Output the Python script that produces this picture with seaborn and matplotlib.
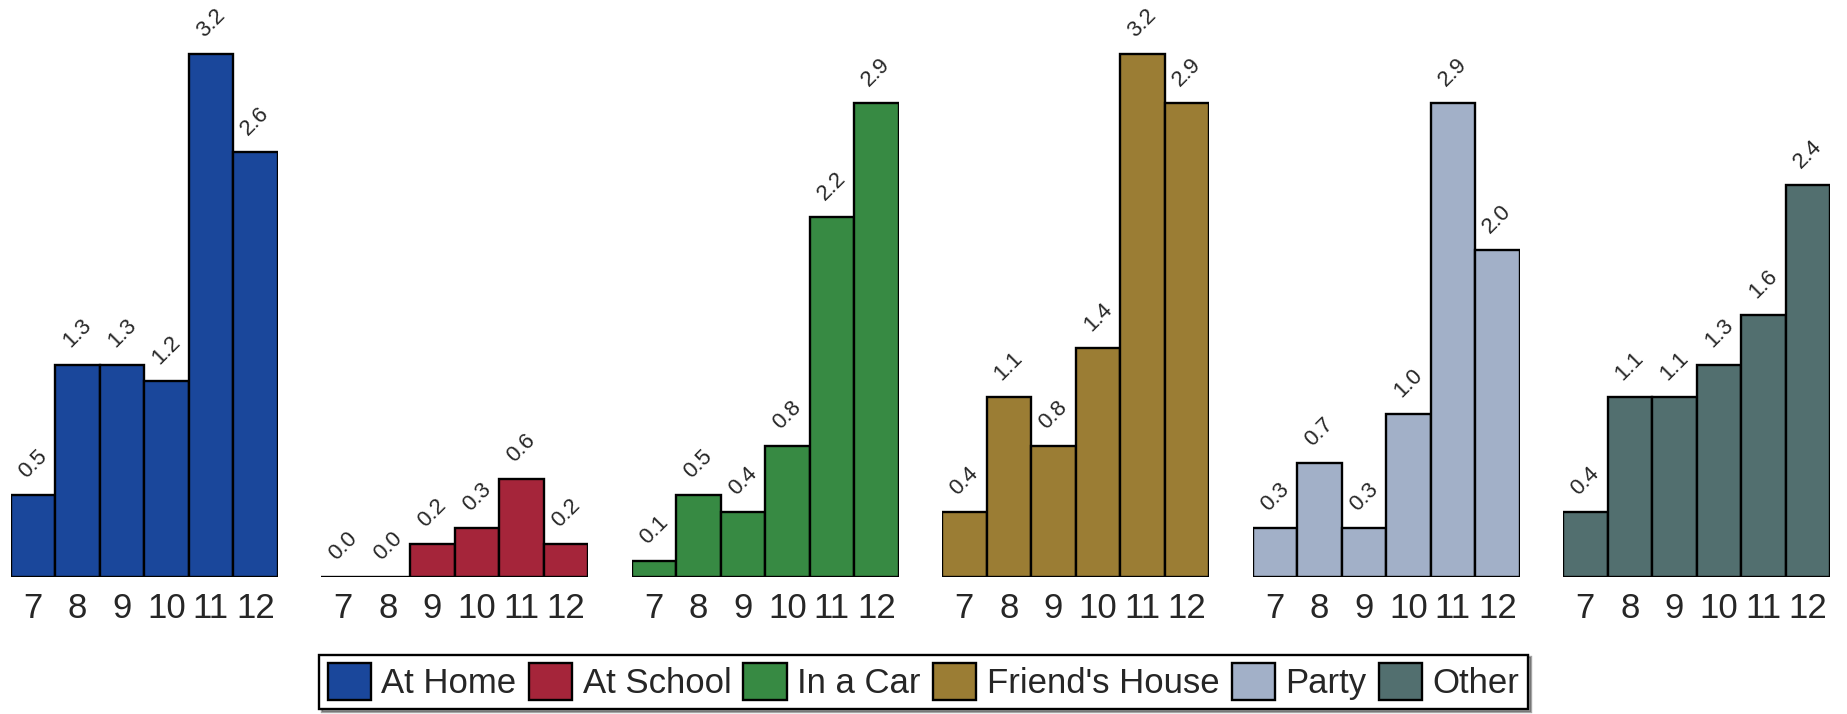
import numpy as np
import pandas as pd
import matplotlib
matplotlib.use('Agg')
import matplotlib.pyplot as plt
import seaborn as sns
from matplotlib.patches import Patch

grades = ['7', '8', '9', '10', '11', '12']
locations = ['At Home', 'At School', 'In a Car', "Friend's House", 'Party', 'Other']

at_home = [0.5, 1.3, 1.3, 1.2, 3.2, 2.6]
at_school = [0.0, 0.0, 0.2, 0.3, 0.6, 0.2]
in_a_car = [0.1, 0.5, 0.4, 0.8, 2.2, 2.9]
friends_house = [0.4, 1.1, 0.8, 1.4, 3.2, 2.9]
party = [0.3, 0.7, 0.3, 1.0, 2.9, 2.0]
other = [0.4, 1.1, 1.1, 1.3, 1.6, 2.4]

colors = ['#1A479B', '#A5253A', '#378A43', '#9B7D34', '#A2B0C8', '#526F6F']

series = [at_home, at_school, in_a_car, friends_house, party, other]
rows = []
for loc, vals in zip(locations, series):
    for g, v in zip(grades, vals):
        rows.append({'location': loc, 'grade': g, 'value': v})
df = pd.DataFrame(rows)

sns.set_style('white')
plt.rcParams['font.family'] = ['Liberation Sans', 'DejaVu Sans']

W, H = 1847, 714
fig = plt.figure(figsize=(W / 100, H / 100), dpi=100)

panel_w = 267
base_y = 577
px_per_unit = (577 - 54) / 3.2
for i, (loc, col) in enumerate(zip(locations, colors)):
    left = 10.6 + 310.5 * i
    ax = fig.add_axes([left / W, (H - base_y) / H, panel_w / W, base_y / H])
    sub = df[df['location'] == loc]
    sns.barplot(data=sub, x='grade', y='value', order=grades, color=col,
                width=1.0, edgecolor='black', linewidth=1.7, saturation=1,
                errorbar=None, ax=ax)
    for c in ax.containers:
        ax.bar_label(c, fmt='%.1f', rotation=45, padding=9, fontsize=16)
    ax.set_xlim(-0.5, 5.5)
    ax.set_ylim(0, base_y / px_per_unit)
    ax.set_xlabel('')
    ax.set_ylabel('')
    ax.set_yticks([])
    ax.tick_params(axis='x', length=0, pad=11, labelsize=25)
    for s in ax.spines.values():
        s.set_visible(False)

handles = [Patch(facecolor=c, edgecolor='black', linewidth=1.7) for c in colors]
leg = fig.legend(handles, locations, loc='center', bbox_to_anchor=(0.5, 0.045),
                 ncol=6, fontsize=25, frameon=True, fancybox=False, shadow=True,
                 edgecolor='black', handlelength=1.25, handleheight=1.25,
                 handletextpad=0.3, columnspacing=0.35, borderpad=0.25,
                 borderaxespad=0)
leg.get_frame().set_linewidth(1.7)

plt.savefig('out.png', dpi=100)
